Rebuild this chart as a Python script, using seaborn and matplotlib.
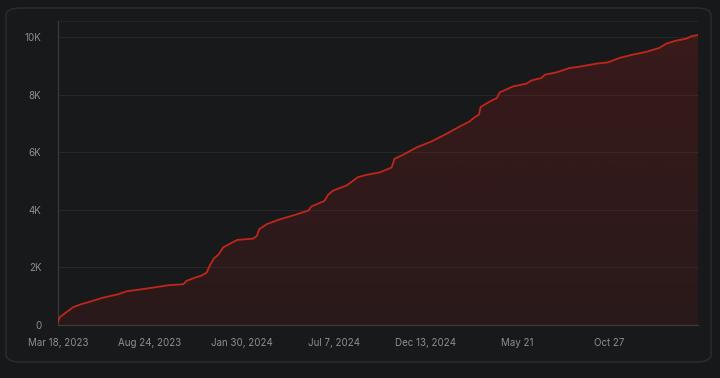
import numpy as np
import pandas as pd
import matplotlib.pyplot as plt
import matplotlib.dates as mdates
import seaborn as sns
from matplotlib.patches import FancyBboxPatch
from matplotlib.colors import to_rgb

# Cumulative count (days after the first date)
start_date = "2023-03-18"
day_offsets = [0, 3, 12, 26, 41, 52, 76, 104, 119, 145, 168, 191, 217, 222, 237, 248,
               257, 263, 270, 277, 286, 297, 310, 338, 344, 348, 361, 381, 410, 433,
               438, 461, 467, 476, 499, 519, 534, 557, 577, 582, 597, 620, 646, 672,
               695, 712, 721, 728, 731, 747, 759, 764, 787, 810, 819, 836, 842, 862,
               885, 902, 931, 951, 971, 994, 1017, 1040, 1052, 1069, 1087, 1095, 1107]
counts = [115, 268, 407, 616, 730, 790, 939, 1068, 1172, 1242, 1311, 1381, 1416, 1530,
          1645, 1715, 1819, 2087, 2320, 2435, 2702, 2817, 2955, 3002, 3095, 3328, 3502,
          3652, 3826, 3975, 4114, 4313, 4522, 4671, 4845, 5137, 5217, 5304, 5471, 5774,
          5913, 6167, 6375, 6643, 6897, 7071, 7224, 7304, 7572, 7766, 7885, 8080, 8288,
          8382, 8497, 8580, 8695, 8775, 8928, 8973, 9078, 9123, 9276, 9391, 9485, 9624,
          9773, 9878, 9947, 10027, 10076]

tick_dates = ["2023-03-18", "2023-08-24", "2024-01-30", "2024-07-07",
              "2024-12-13", "2025-05-21", "2025-10-27"]
tick_labels = ["Mar 18, 2023", "Aug 24, 2023", "Jan 30, 2024", "Jul 7, 2024",
               "Dec 13, 2024", "May 21", "Oct 27"]
y_ticks = [0, 2000, 4000, 6000, 8000, 10000]
y_labels = ["0", "2K", "4K", "6K", "8K", "10K"]

df = pd.DataFrame({
    "date": pd.Timestamp(start_date) + pd.to_timedelta(day_offsets, unit="D"),
    "count": counts,
})

bg = "#17181a"
grid_c = "#26272a"
text_c = "#8e8f93"
red = "#c0261c"
y_max = 10560

sns.set_theme(style="dark")
plt.rcParams["font.family"] = ["Inter", "DejaVu Sans"]

fig = plt.figure(figsize=(7.2, 3.78), dpi=100, facecolor=bg)
# rounded card behind the plot
card = FancyBboxPatch((6 / 720, 1 - 362 / 378), 705 / 720, 354 / 378,
                      boxstyle="round,pad=0,rounding_size=0.02",
                      transform=fig.transFigure, facecolor="#18191b",
                      edgecolor="#2d2e32", linewidth=1.0, zorder=-5)
fig.patches.append(card)

ax = fig.add_axes([58 / 720, 1 - 325 / 378, 640 / 720, 304 / 378])
ax.set_zorder(2)
ax.set_facecolor("none")

x0 = pd.Timestamp(start_date)
x1 = x0 + pd.Timedelta(days=1107)

sns.lineplot(data=df, x="date", y="count", ax=ax, color=red, linewidth=1.3, zorder=3)

# area under the curve: red that gets a little stronger towards the top
area = ax.fill_between(df["date"], df["count"], 0, facecolor="none",
                       linewidth=0, zorder=2)
grad = np.zeros((256, 2, 4))
grad[..., :3] = to_rgb("#b01e16")
grad[..., 3] = np.linspace(0.12, 0.22, 256)[:, None]
img = ax.imshow(grad, origin="lower", aspect="auto", zorder=2,
                extent=[mdates.date2num(x0), mdates.date2num(x1), 0, y_max])
img.set_clip_path(area.get_paths()[0], transform=ax.transData)

ax.set_xlim(x0, x1)
ax.set_ylim(0, y_max)

ax.set_xticks(pd.to_datetime(tick_dates))
ax.set_xticklabels(tick_labels)
ax.set_yticks(y_ticks)
ax.set_yticklabels(y_labels)
ax.set_xlabel("")
ax.set_ylabel("")

ax.grid(axis="y", color=grid_c, linewidth=0.8)
ax.grid(axis="x", visible=False)
ax.axhline(y_max, color=grid_c, linewidth=1.2, zorder=1)

for side in ["top", "right"]:
    ax.spines[side].set_visible(False)
for side in ["left", "bottom"]:
    ax.spines[side].set_color("#3a3b3f")
    ax.spines[side].set_linewidth(0.9)

ax.tick_params(axis="both", colors=text_c, labelsize=7, length=3, width=0.8)
ax.tick_params(axis="x", pad=6, color="#3a3b3f")
ax.tick_params(axis="y", pad=9, color=grid_c)

fig.savefig("out.png", dpi=100, facecolor=bg)
